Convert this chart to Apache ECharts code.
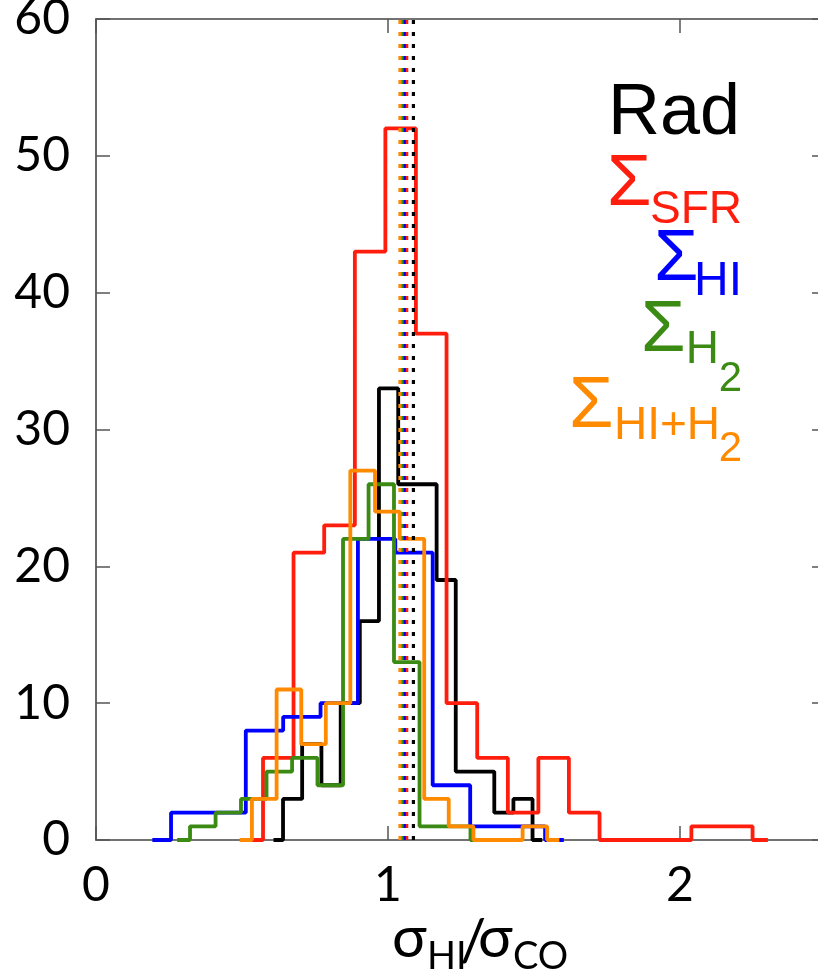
<!DOCTYPE html>
<html>
<head>
<meta charset="utf-8">
<script src="https://cdn.jsdelivr.net/npm/echarts@6/dist/echarts.min.js"></script>
<style>
  html, body { margin: 0; padding: 0; background: #fff; }
  #chart { width: 818px; height: 978px; }
</style>
</head>
<body>
<div id="chart"></div>
<script>
// Histograms of the HI/CO velocity-dispersion ratio (bin centres and counts)
const radX   = [0.608, 0.673, 0.739, 0.805, 0.871, 0.936, 1.002, 1.068, 1.134, 1.199, 1.265, 1.331, 1.397, 1.462, 1.528];
const radN   = [0, 3, 7, 4, 10, 16, 33, 26, 26, 19, 5, 5, 2, 3, 0];

const sfrX   = [0.520, 0.624, 0.729, 0.834, 0.939, 1.043, 1.148, 1.253, 1.358, 1.463, 1.567, 1.672, 1.777, 1.882, 1.987, 2.091, 2.196, 2.301];
const sfrN   = [0, 6, 21, 23, 43, 52, 37, 10, 6, 2, 6, 2, 0, 0, 0, 1, 1, 0];

const hiX    = [0.193, 0.321, 0.449, 0.577, 0.705, 0.833, 0.961, 1.089, 1.217, 1.346, 1.474, 1.602];
const hiN    = [0, 2, 2, 8, 9, 10, 22, 21, 4, 1, 1, 0];

const h2X    = [0.278, 0.366, 0.453, 0.540, 0.628, 0.715, 0.802, 0.890, 0.977, 1.064, 1.152, 1.239, 1.326];
const h2N    = [0, 1, 2, 3, 5, 6, 4, 22, 26, 13, 1, 1, 0];

const totX   = [0.492, 0.576, 0.661, 0.745, 0.829, 0.913, 0.998, 1.082, 1.166, 1.250, 1.335, 1.419, 1.503, 1.587];
const totN   = [0, 3, 11, 7, 10, 27, 24, 22, 3, 1, 0, 0, 1, 0];

// Mean ratio of each distribution (dotted verticals)
const meanRad = 1.087;
const meanSfr = 1.064;
const meanHi  = 1.056;
const meanH2  = 1.048;
const meanTot = 1.041;

const xTicks = [0, 1, 2];
const yTicks = [0, 10, 20, 30, 40, 50, 60];

const C = {
  rad: '#000000',
  sfr: '#ff1e0e',
  hi:  '#0000ff',
  h2:  '#3a8a14',
  tot: '#ff8a00'
};

const pair = (xs, ys) => xs.map((x, i) => [x, ys[i]]);

function hist(name, xs, ys, color) {
  return {
    name, type: 'line', step: 'middle', symbol: 'none',
    data: pair(xs, ys),
    lineStyle: { color, width: 3.8 },
    z: 3
  };
}
function meanLine(name, x, color) {
  return {
    name, type: 'line', symbol: 'none',
    data: [[x, 0], [x, 60]],
    lineStyle: { color, width: 3.2, type: [4, 8] },
    z: 5
  };
}

const numFont = 'Lato';
const chart = echarts.init(document.getElementById('chart'), null, { renderer: 'canvas' });

const tickStyle = { show: true, inside: true, length: 14, lineStyle: { color: '#555', width: 1.5 } };
const lineStyleAxis = { show: true, onZero: false, lineStyle: { color: '#444', width: 1.6 } };

chart.setOption({
  animation: false,
  backgroundColor: '#fff',
  grid: { left: 96, right: -8, top: 19, bottom: 138, outerBoundsMode: 'none' },
  xAxis: [
    {
      type: 'value', min: 0, max: 2.5, interval: 1, position: 'bottom',
      axisLine: lineStyleAxis, axisTick: tickStyle, splitLine: { show: false },
      axisLabel: {
        margin: 22, color: '#000', fontFamily: numFont, fontSize: 48,
        formatter: v => (xTicks.indexOf(v) >= 0 ? String(v) : '')
      }
    },
    {
      type: 'value', min: 0, max: 2.5, interval: 1, position: 'top',
      axisLine: lineStyleAxis, axisTick: tickStyle, splitLine: { show: false },
      axisLabel: { show: false }
    }
  ],
  yAxis: [
    {
      type: 'value', min: 0, max: 60, interval: 10, position: 'left',
      axisLine: lineStyleAxis, axisTick: tickStyle, splitLine: { show: false },
      axisLabel: {
        margin: 26, color: '#000', fontFamily: numFont, fontSize: 48,
        formatter: v => (yTicks.indexOf(v) >= 0 ? String(v) : '')
      }
    },
    {
      type: 'value', min: 0, max: 60, interval: 10, position: 'right',
      axisLine: lineStyleAxis, axisTick: tickStyle, splitLine: { show: false },
      axisLabel: { show: false }
    }
  ],
  series: [
    hist('Rad', radX, radN, C.rad),
    hist('ΣSFR', sfrX, sfrN, C.sfr),
    hist('ΣHI', hiX, hiN, C.hi),
    hist('ΣH2', h2X, h2N, C.h2),
    hist('ΣHI+H2', totX, totN, C.tot),
    meanLine('mean Rad', meanRad, C.rad),
    meanLine('mean ΣSFR', meanSfr, C.sfr),
    meanLine('mean ΣHI', meanHi, C.hi),
    meanLine('mean ΣH2', meanH2, C.h2),
    meanLine('mean ΣHI+H2', meanTot, C.tot)
  ],
  graphic: [
    // key labels
    { type: 'text', x: 740, y: 114, style: { text: 'Rad', fill: C.rad, font: '72px "Liberation Sans"', textAlign: 'right', textVerticalAlign: 'middle' } },

    { type: 'text', x: 607, y: 185, style: { text: 'Σ', fill: C.sfr, font: '72px "Liberation Sans"', textAlign: 'left', textVerticalAlign: 'middle' } },
    { type: 'text', x: 742, y: 210, style: { text: 'SFR', fill: C.sfr, font: '46px "Liberation Sans"', textAlign: 'right', textVerticalAlign: 'middle' } },

    { type: 'text', x: 654, y: 260, style: { text: 'Σ', fill: C.hi, font: '72px "Liberation Sans"', textAlign: 'left', textVerticalAlign: 'middle' } },
    { type: 'text', x: 742, y: 282, style: { text: 'HI', fill: C.hi, font: '48px "Liberation Sans"', textAlign: 'right', textVerticalAlign: 'middle' } },

    { type: 'text', x: 641, y: 331, style: { text: 'Σ', fill: C.h2, font: '72px "Liberation Sans"', textAlign: 'left', textVerticalAlign: 'middle' } },
    { type: 'text', x: 719, y: 350, style: { text: 'H', fill: C.h2, font: '46px "Liberation Sans"', textAlign: 'right', textVerticalAlign: 'middle' } },
    { type: 'text', x: 742, y: 379, style: { text: '2', fill: C.h2, font: '42px "Liberation Sans"', textAlign: 'right', textVerticalAlign: 'middle' } },

    { type: 'text', x: 569, y: 407, style: { text: 'Σ', fill: C.tot, font: '72px "Liberation Sans"', textAlign: 'left', textVerticalAlign: 'middle' } },
    { type: 'text', x: 720, y: 426, style: { text: 'HI+H', fill: C.tot, font: '46px "Liberation Sans"', textAlign: 'right', textVerticalAlign: 'middle' } },
    { type: 'text', x: 742, y: 449, style: { text: '2', fill: C.tot, font: '42px "Liberation Sans"', textAlign: 'right', textVerticalAlign: 'middle' } },

    // x-axis title: σHI/σCO
    { type: 'text', x: 392, y: 938, style: { text: 'σ', fill: '#000', font: '58px Lato', textAlign: 'left', textVerticalAlign: 'middle' } },
    { type: 'text', x: 427, y: 957, style: { text: 'HI', fill: '#000', font: '38px Lato', textAlign: 'left', textVerticalAlign: 'middle' } },
    { type: 'text', x: 460, y: 942, style: { text: '/', fill: '#000', font: '58px Lato', textAlign: 'left', textVerticalAlign: 'middle' } },
    { type: 'text', x: 478, y: 938, style: { text: 'σ', fill: '#000', font: '58px Lato', textAlign: 'left', textVerticalAlign: 'middle' } },
    { type: 'text', x: 513, y: 957, style: { text: 'CO', fill: '#000', font: '38px Lato', textAlign: 'left', textVerticalAlign: 'middle' } }
  ]
});
</script>
</body>
</html>
